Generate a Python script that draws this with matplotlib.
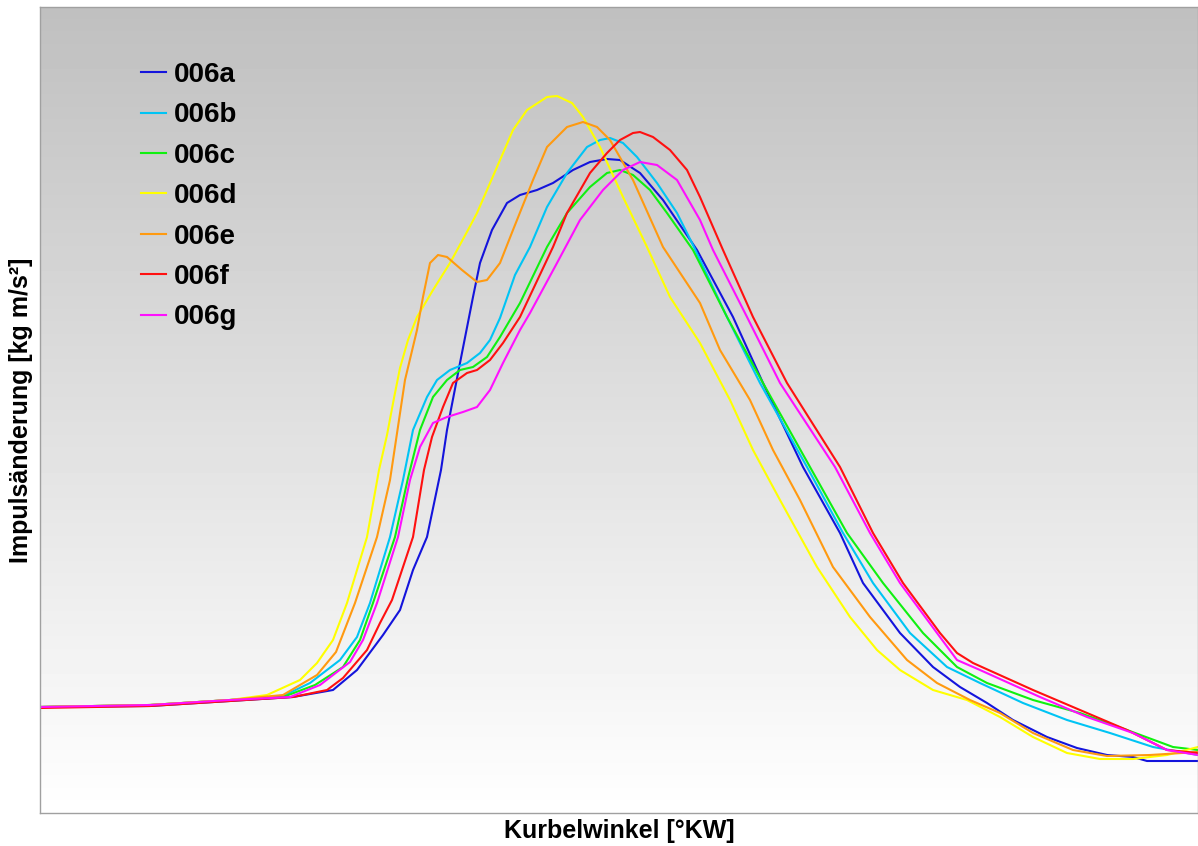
import numpy as np
import matplotlib
matplotlib.use("Agg")
import matplotlib.pyplot as plt

plt.rcParams['font.family'] = ['Liberation Sans', 'DejaVu Sans']

# Impulsänderung über Kurbelwinkel, Messreihe 006a-006g
names = ['006a', '006b', '006c', '006d', '006e', '006f', '006g']
colors = ['#1414dc', '#00c4f4', '#10f010', '#ffff00', '#ff9a10', '#ff1010', '#ff10ff']

kw_a = [-40.0, -29.0, -21.0, -14.7, -10.7, -8.3, -5.7, -4.0, -2.7, -1.3, 0.1, 0.7, 2.0, 3.3, 4.0, 5.2,
        6.7, 8.0, 9.7, 11.3, 13.3, 15.0, 16.7, 18.0, 20.0, 22.3, 25.7, 29.3, 32.3, 36.3, 40.0, 42.3,
        46.0, 49.3, 52.0, 54.7, 57.3, 60.7, 63.7, 66.7, 69.3, 70.7, 75.8]
imp_a = [10.6, 10.7, 11.2, 11.6, 12.3, 14.3, 17.8, 20.3, 24.3, 27.6, 34.3, 38.3, 45.0, 51.6, 55.0, 58.3,
         61.0, 61.8, 62.3, 63.0, 64.3, 65.1, 65.4, 65.3, 64.0, 61.3, 56.3, 49.6, 43.0, 34.6, 28.0, 23.0,
         18.0, 14.6, 12.6, 11.0, 9.3, 7.6, 6.5, 5.8, 5.6, 5.2, 5.2]

kw_b = [-40.0, -29.0, -21.0, -15.7, -13.0, -10.0, -8.3, -7.0, -5.0, -3.7, -2.7, -1.3, -0.3, 1.0, 2.7, 4.0,
        5.0, 6.0, 7.5, 9.0, 10.7, 12.7, 14.7, 16.0, 17.0, 18.3, 19.7, 21.7, 23.7, 25.3, 28.7, 32.0,
        36.7, 40.3, 43.3, 47.0, 50.7, 54.0, 58.3, 62.7, 67.0, 71.3, 75.8]
imp_b = [10.6, 10.8, 11.3, 11.7, 13.0, 15.3, 17.6, 21.0, 27.6, 33.3, 38.3, 41.6, 43.3, 44.3, 45.0, 46.0,
         47.3, 49.5, 53.8, 56.6, 60.6, 64.0, 66.6, 67.3, 67.5, 67.0, 65.6, 63.0, 60.0, 56.8, 49.6, 43.0,
         34.6, 28.0, 23.0, 18.0, 14.6, 13.0, 11.0, 9.3, 8.0, 6.6, 5.8]

kw_c = [-40.0, -29.0, -21.0, -15.7, -12.5, -9.7, -8.0, -6.7, -4.5, -3.2, -2.0, -0.7, 0.7, 2.0, 3.3, 4.7,
        6.0, 8.0, 10.7, 12.7, 15.0, 16.7, 18.0, 19.3, 21.0, 22.7, 25.3, 28.7, 32.3, 37.0, 40.7, 44.3,
        48.3, 51.7, 54.7, 59.3, 64.0, 68.7, 73.3, 75.8]
imp_c = [10.6, 10.8, 11.3, 11.6, 12.8, 14.6, 17.3, 21.0, 27.6, 33.5, 38.3, 41.6, 43.3, 44.3, 44.6, 45.6,
         47.6, 51.0, 56.6, 60.0, 62.6, 64.0, 64.3, 63.8, 62.3, 60.0, 56.3, 49.6, 43.0, 34.6, 28.0, 23.0,
         18.0, 14.6, 13.0, 11.3, 10.0, 8.3, 6.6, 6.3]

kw_d = [-40.0, -29.0, -21.0, -17.3, -14.0, -12.3, -10.7, -9.3, -7.3, -6.1, -5.3, -4.6, -4.0, -3.2, -2.3,
        -0.7, 1.0, 2.8, 3.7, 5.7, 7.3, 8.7, 10.7, 11.7, 13.2, 14.3, 16.0, 18.3, 20.7, 23.0, 26.0, 29.0,
        31.3, 34.0, 37.7, 41.0, 43.7, 46.0, 49.3, 52.7, 56.0, 59.3, 62.7, 66.0, 69.3, 72.7, 75.8]
imp_d = [10.6, 10.8, 11.3, 11.8, 13.3, 15.0, 17.3, 21.0, 27.6, 34.3, 37.8, 41.5, 44.5, 47.3, 49.6,
         52.3, 55.0, 58.3, 60.0, 64.6, 68.3, 70.3, 71.6, 71.7, 71.0, 69.6, 66.6, 61.6, 56.6, 51.6, 47.0, 41.3,
         36.3, 31.3, 24.6, 19.6, 16.3, 14.3, 12.3, 11.3, 9.6, 7.6, 6.0, 5.4, 5.4, 5.8, 6.6]

kw_e = [-40.0, -29.0, -21.0, -15.7, -14.0, -12.3, -10.4, -8.5, -6.3, -5.0, -3.5, -2.3, -1.7, -1.0, -0.2, 0.7,
        2.2, 3.7, 4.7, 6.0, 7.3, 9.3, 10.7, 12.7, 14.3, 15.7, 17.0, 19.3, 22.3, 26.0, 28.0, 31.0,
        33.3, 36.0, 39.3, 43.0, 46.7, 49.7, 53.0, 56.0, 59.3, 63.3, 66.7, 71.0, 75.8]
imp_e = [10.6, 10.8, 11.3, 11.8, 12.8, 13.8, 16.1, 21.0, 27.6, 33.3, 43.3, 48.3, 51.6, 55.0, 55.8, 55.6,
         54.3, 53.1, 53.3, 55.0, 58.3, 63.3, 66.6, 68.6, 69.1, 68.6, 67.3, 63.3, 56.6, 51.0, 46.3, 41.3,
         36.3, 31.3, 24.6, 19.6, 15.3, 13.0, 11.3, 10.0, 8.0, 6.3, 5.7, 5.8, 6.1]

kw_f = [-40.0, -29.0, -21.0, -14.7, -11.3, -9.7, -7.3, -6.0, -4.8, -2.7, -1.6, -0.8, 0.3, 1.3, 2.7, 3.7,
        5.0, 6.3, 8.0, 11.3, 12.7, 15.0, 16.7, 18.0, 19.3, 20.0, 21.3, 23.0, 24.7, 26.0, 28.3, 31.3,
        34.7, 40.0, 43.3, 46.3, 50.0, 51.7, 53.3, 59.3, 64.0, 68.7, 72.7, 75.8]
imp_f = [10.5, 10.7, 11.2, 11.6, 12.3, 13.5, 16.3, 19.0, 21.3, 27.6, 34.3, 37.6, 40.6, 43.0, 44.0, 44.3,
         45.3, 47.0, 49.6, 56.6, 60.0, 64.0, 66.0, 67.3, 68.0, 68.1, 67.6, 66.3, 64.3, 61.6, 56.3, 49.6,
         43.0, 34.6, 28.0, 23.0, 18.0, 16.0, 15.0, 12.3, 10.3, 8.3, 6.3, 6.0]

kw_g = [-40.0, -29.0, -21.0, -15.0, -12.0, -9.0, -7.7, -6.3, -4.2, -3.0, -2.0, -0.7, 0.7, 2.3, 3.7, 5.0,
        6.3, 8.0, 9.0, 11.7, 14.0, 16.3, 18.3, 20.0, 21.7, 23.7, 26.0, 27.3, 30.7, 34.0, 39.5, 43.0,
        46.0, 49.7, 51.7, 54.0, 60.0, 64.7, 69.3, 72.7, 75.8]
imp_g = [10.6, 10.8, 11.3, 11.6, 12.8, 15.1, 17.3, 21.0, 27.6, 33.3, 36.6, 39.0, 39.6, 40.1, 40.6, 42.3,
         45.0, 48.3, 50.0, 55.0, 59.3, 62.3, 64.3, 65.1, 64.8, 63.3, 59.3, 56.3, 49.6, 43.0, 34.6, 28.0,
         23.0, 18.0, 15.3, 14.3, 11.6, 9.6, 8.0, 6.3, 5.8]

kw = [kw_a, kw_b, kw_c, kw_d, kw_e, kw_f, kw_g]
imp = [imp_a, imp_b, imp_c, imp_d, imp_e, imp_f, imp_g]

fig = plt.figure(figsize=(11.98, 8.46), dpi=100)
ax = fig.add_axes([40 / 1198, 33 / 846, 1158 / 1198, 806 / 846])
ax.set_xlim(-40, 75.8)
ax.set_ylim(0, 80.6)

# grauer Verlauf oben -> weiss unten
grad = np.linspace(1.0, 0.75, 256).reshape(-1, 1)
ax.imshow(grad, cmap='gray', vmin=0, vmax=1, aspect='auto', origin='lower',
          extent=[-40, 75.8, 0, 80.6], zorder=0)

for n, c, x, y in zip(names, colors, kw, imp):
    ax.plot(x, y, color=c, lw=1.5, label=n, zorder=2, solid_joinstyle='round')

ax.set_xticks([])
ax.set_yticks([])
for s in ax.spines.values():
    s.set_color('#a0a0a0')
    s.set_linewidth(1)

ax.set_xlabel('Kurbelwinkel [°KW]', fontsize=18, fontweight='bold', labelpad=4)
ax.set_ylabel('Impulsänderung [kg m/s²]', fontsize=18, fontweight='bold', labelpad=5)

leg = ax.legend(loc='upper left', bbox_to_anchor=(0.087, 0.932), frameon=False,
                prop={'size': 20, 'weight': 'bold'}, handlelength=0.9, handletextpad=0.3,
                labelspacing=0.52, borderpad=0, borderaxespad=0)

fig.savefig('out.png', dpi=100)
